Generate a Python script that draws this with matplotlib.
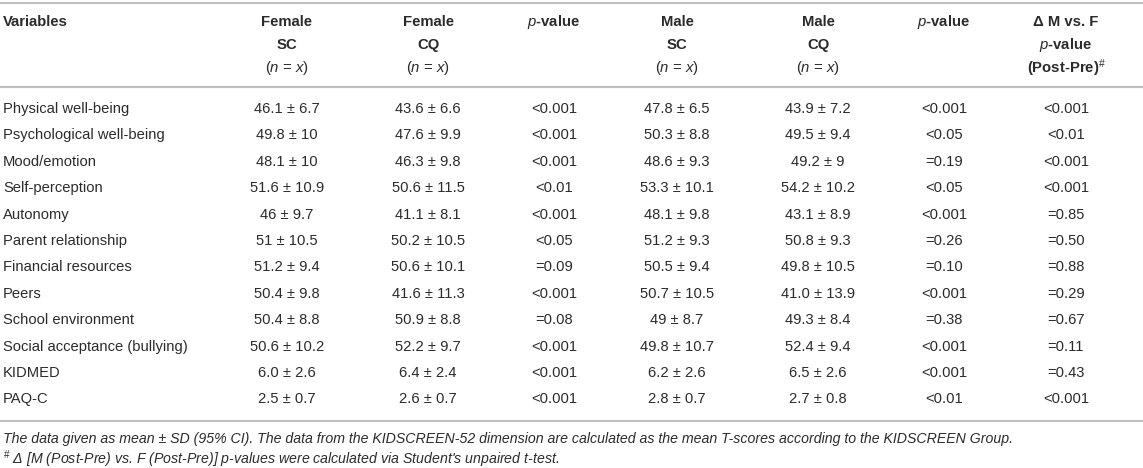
import matplotlib.pyplot as plt
from matplotlib.lines import Line2D

plt.rcParams['font.family'] = ['Liberation Sans', 'DejaVu Sans']
plt.rcParams['mathtext.fontset'] = 'custom'
plt.rcParams['mathtext.rm'] = 'Liberation Sans'
plt.rcParams['mathtext.it'] = 'Liberation Sans:italic'
plt.rcParams['mathtext.bf'] = 'Liberation Sans:bold'

# table content
variables = ['Physical well-being', 'Psychological well-being', 'Mood/emotion',
             'Self-perception', 'Autonomy', 'Parent relationship',
             'Financial resources', 'Peers', 'School environment',
             'Social acceptance (bullying)', 'KIDMED', 'PAQ-C']
female_sc = ['46.1 ± 6.7', '49.8 ± 10', '48.1 ± 10', '51.6 ± 10.9', '46 ± 9.7',
             '51 ± 10.5', '51.2 ± 9.4', '50.4 ± 9.8', '50.4 ± 8.8', '50.6 ± 10.2',
             '6.0 ± 2.6', '2.5 ± 0.7']
female_cq = ['43.6 ± 6.6', '47.6 ± 9.9', '46.3 ± 9.8', '50.6 ± 11.5', '41.1 ± 8.1',
             '50.2 ± 10.5', '50.6 ± 10.1', '41.6 ± 11.3', '50.9 ± 8.8', '52.2 ± 9.7',
             '6.4 ± 2.4', '2.6 ± 0.7']
female_p = ['<0.001', '<0.001', '<0.001', '<0.01', '<0.001', '<0.05', '=0.09',
            '<0.001', '=0.08', '<0.001', '<0.001', '<0.001']
male_sc = ['47.8 ± 6.5', '50.3 ± 8.8', '48.6 ± 9.3', '53.3 ± 10.1', '48.1 ± 9.8',
           '51.2 ± 9.3', '50.5 ± 9.4', '50.7 ± 10.5', '49 ± 8.7', '49.8 ± 10.7',
           '6.2 ± 2.6', '2.8 ± 0.7']
male_cq = ['43.9 ± 7.2', '49.5 ± 9.4', '49.2 ± 9', '54.2 ± 10.2', '43.1 ± 8.9',
           '50.8 ± 9.3', '49.8 ± 10.5', '41.0 ± 13.9', '49.3 ± 8.4', '52.4 ± 9.4',
           '6.5 ± 2.6', '2.7 ± 0.8']
male_p = ['<0.001', '<0.05', '=0.19', '<0.05', '<0.001', '=0.26', '=0.10',
          '<0.001', '=0.38', '<0.001', '<0.001', '<0.01']
delta_p = ['<0.001', '<0.01', '<0.001', '<0.001', '=0.85', '=0.50', '=0.88',
           '=0.29', '=0.67', '=0.11', '=0.43', '<0.001']

headers = [
    ['Female', 'SC', r'($\mathit{n}$ = $\mathit{x}$)'],
    ['Female', 'CQ', r'($\mathit{n}$ = $\mathit{x}$)'],
    [r'$\mathit{p}$-value'],
    ['Male', 'SC', r'($\mathit{n}$ = $\mathit{x}$)'],
    ['Male', 'CQ', r'($\mathit{n}$ = $\mathit{x}$)'],
    [r'$\mathit{p}$-value'],
    ['Δ M vs. F', r'$\mathit{p}$-value', r'(Post-Pre)$^{\#}$'],
]
footnotes = [
    'The data given as mean ± SD (95% CI). The data from the KIDSCREEN-52 dimension '
    'are calculated as the mean T-scores according to the KIDSCREEN Group.',
    r"$^{\#}$ Δ [M (Post-Pre) vs. F (Post-Pre)] p-values were calculated via "
    r"Student's unpaired t-test.",
]

W, H = 1143, 468
fig = plt.figure(figsize=(W / 100, H / 100), dpi=100)
fig.patch.set_facecolor('white')


def fx(px):
    return px / W


def fy(py):
    return 1 - py / H


text_color = '#2b2b2b'
rule_color = '#c0c0c0'
col_x = [287, 428, 554, 677, 818, 944, 1066]
header_y = [22, 45, 68]
row_y0, row_dy = 109, 26.4

for y in (3, 87, 421):
    fig.add_artist(Line2D([0, 1], [fy(y), fy(y)], color=rule_color, lw=1.6,
                          transform=fig.transFigure))

fig.text(fx(3), fy(header_y[0]), 'Variables', fontsize=10.7, fontweight='bold',
         color=text_color, va='center', ha='left')
for cx, lines in zip(col_x, headers):
    for i, s in enumerate(lines):
        weight = 'normal' if s.startswith('($') else 'bold'
        fig.text(fx(cx), fy(header_y[i]), s, fontsize=10.7, fontweight=weight,
                 color=text_color, va='center', ha='center')

columns = [female_sc, female_cq, female_p, male_sc, male_cq, male_p, delta_p]
for r, name in enumerate(variables):
    y = fy(row_y0 + r * row_dy)
    fig.text(fx(3), y, name, fontsize=10.6, color=text_color, va='center', ha='left')
    for cx, col in zip(col_x, columns):
        fig.text(fx(cx), y, col[r], fontsize=10.6, color=text_color,
                 va='center', ha='center')

for i, note in enumerate(footnotes):
    fig.text(fx(3), fy(439 + i * 20), note, fontsize=10.2, style='italic',
             color=text_color, va='center', ha='left')

fig.savefig('out.png', dpi=100, facecolor='white')
